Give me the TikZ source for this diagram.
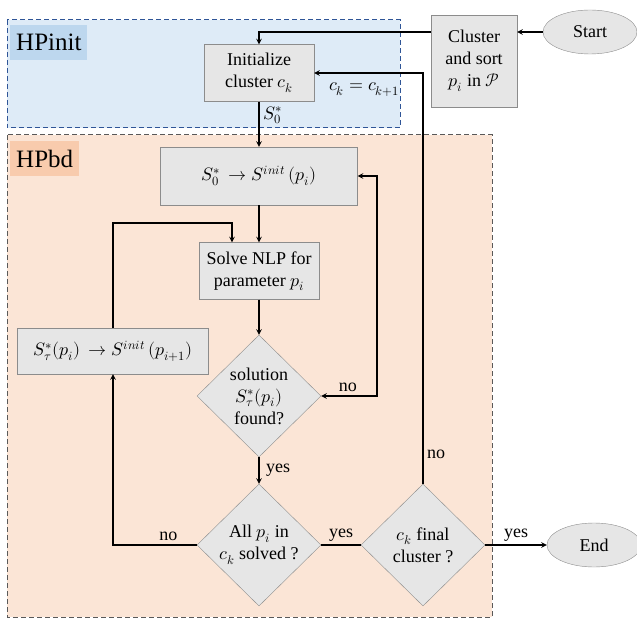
\documentclass[tikz,border=0pt]{standalone}
\usepackage{fontspec}
\usepackage{unicode-math}
\setmainfont{Liberation Serif}
\usepackage{tikz}
\usetikzlibrary{shapes.geometric, positioning, arrows}

\definecolor{initfill}{HTML}{DEEBF7}
\definecolor{initline}{HTML}{2F5597}
\definecolor{inittag}{HTML}{BDD7EE}
\definecolor{bdfill}{HTML}{FBE5D6}
\definecolor{bdline}{HTML}{595959}
\definecolor{bdtag}{HTML}{F8CBAD}
\definecolor{boxfill}{HTML}{E6E6E6}
\definecolor{boxline}{HTML}{8C8C8C}

\tikzset{
>=stealth, % small filled arrow heads
every node/.style={font=\fontsize{18}{22}\selectfont}, % same text size everywhere
block/.style={rectangle, draw=boxline, fill=boxfill, align=center}, % process boxes
decision/.style={diamond, draw=boxline, fill=boxfill, aspect=1, inner sep=0pt,
  minimum width=124pt, minimum height=122pt, align=center}, % yes/no tests
terminal/.style={ellipse, draw=boxline, fill=boxfill, minimum width=94pt, minimum height=44pt}, % start and end
flow/.style={line width=1.4pt}, % connectors
region/.style={dash pattern=on 5pt off 3pt, line width=1pt}, % dashed frames
tag/.style={anchor=north west, inner xsep=6pt, minimum height=35pt, font=\fontsize{25}{28}\selectfont}, % region titles
}

\begin{document}
\begin{tikzpicture}[x=1pt, y=-1pt]
            \useasboundingbox (0,0) rectangle (637,620);

            % the two regions
            \draw[region, initline, fill=initfill] (7,20) rectangle (400,128);
            \draw[region, bdline, fill=bdfill] (7,135) rectangle (492,617);
            \node[tag, fill=inittag] (hpinit) at (10,25) {HPinit};
            \node[tag, fill=bdtag] (hpbd) at (10,141) {HPbd};

            \node[terminal] (start) at (590,32) {Start};
            \node[block, minimum width=86pt, minimum height=92pt] (sort) at (474,61) {Cluster\\and sort\\$p_i$ in $\mathcal{P}$};
            \node[block, minimum width=110pt, minimum height=57pt] (init) at (259,73) {Initialize\\cluster $c_k$};

            \node[block, minimum width=197pt, minimum height=58pt] (s0) at (259,176) {$S_0^* \,\to S^{init}\,(p_i)$};
            \node[block, minimum width=120pt, minimum height=57pt] (solve) at (259,271) {Solve NLP for\\parameter $p_i$};
            \node[decision] (found) at (259,396) {solution\\$S_\tau^*(p_i)$\\found?};
            \node[decision] (alldone) at (259,545) {All $p_i$ in\\$c_k$ solved ?};
            \node[decision] (final) at (423,545) {$c_k$ final\\cluster ?};
            \node[block, minimum width=191pt, minimum height=46pt] (next) at (113,351) {$S_\tau^*(p_i)\,\to S^{init}\,(p_{i+1})$};
            \node[terminal] (end) at (594,545) {End};

            \coordinate (nobend) at (377,176);
            \coordinate (loopin) at (232,223);

            \draw[flow, ->] (start.west) -- (start.west -| sort.east);
            \draw[flow, ->] (sort.west |- start) -| (init.north);
            \draw[flow, ->] (init) -- node[right, pos=0.3]{$S_0^*$} (s0);
            \draw[flow, ->] (s0) -- (solve);
            \draw[flow, ->] (solve) -- (found);
            \draw[flow, <->] (s0.east) -- (nobend) |- node[above, pos=0.76]{no} (found.east);
            \draw[flow, ->] (found) -- node[right, xshift=3pt]{yes} (alldone);
            \draw[flow, ->] (alldone.west) -| node[above, pos=0.17]{no} (next.south);
            \draw[flow, ->] (next.north) |- (loopin) -- (solve.north -| loopin);
            \draw[flow] (alldone) -- node[above]{yes} (final);
            \draw[flow, ->] (final.north) |- node[right, pos=0.036]{no} node[below, pos=0.77, yshift=-6pt]{$c_k = c_{k+1}$} (init.east);
            \draw[flow, ->] (final) -- node[above]{yes} (end);
        \end{tikzpicture}
\end{document}
